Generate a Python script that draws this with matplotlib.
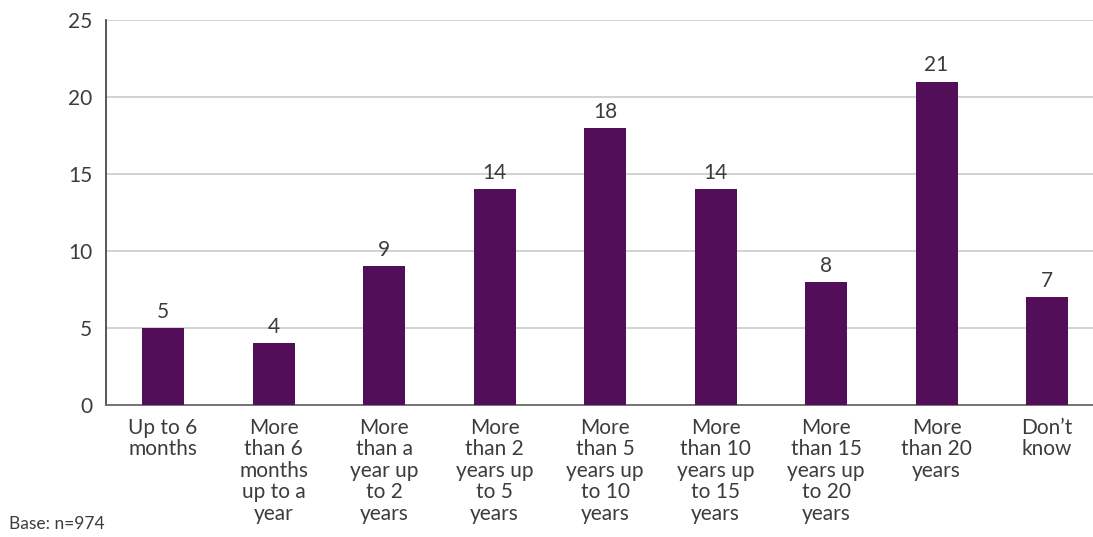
import matplotlib.pyplot as plt

categories = ["Up to 6\nmonths", "More\nthan 6\nmonths\nup to a\nyear", "More\nthan a\nyear up\nto 2\nyears",
              "More\nthan 2\nyears up\nto 5\nyears", "More\nthan 5\nyears up\nto 10\nyears",
              "More\nthan 10\nyears up\nto 15\nyears", "More\nthan 15\nyears up\nto 20\nyears",
              "More\nthan 20\nyears", "Don\u2019t\nknow"]
values = [5, 4, 9, 14, 18, 14, 8, 21, 7]
yticks = [0, 5, 10, 15, 20, 25]

plt.rcParams['font.family'] = ['Lato', 'DejaVu Sans']
txt = '#3c3c3c'

fig = plt.figure(figsize=(10.93, 5.37), dpi=100)
ax = fig.add_axes([106 / 1093, (537 - 405) / 537, (1093 - 106) / 1093, 385 / 537])

x = list(range(len(values)))
ax.bar(x, values, width=0.38, color='#530e5a', zorder=3)
for xi, v in zip(x, values):
    ax.text(xi, v + 0.4, str(v), ha='center', va='bottom', fontsize=15, color=txt)

ax.set_xlim(-0.516, 8.416)
ax.set_ylim(0, 25)
ax.set_yticks(yticks)
ax.set_xticks(x)
ax.set_xticklabels(categories, fontsize=15, color=txt, linespacing=1.1)
ax.tick_params(axis='y', labelsize=15, colors=txt, length=0, pad=10)
ax.tick_params(axis='x', length=0, pad=9)
ax.grid(axis='y', color='#cfcfcf', linewidth=1.3, zorder=0)

for s in ['top', 'right']:
    ax.spines[s].set_visible(False)
ax.spines['left'].set_color('#4a4a4a')
ax.spines['bottom'].set_color('#6a6a6a')
ax.spines['left'].set_linewidth(1.3)
ax.spines['bottom'].set_linewidth(1.3)

fig.text(9 / 1093, 1 - 524 / 537, "Base: n=974", fontsize=12.5, color=txt, va='center')

fig.savefig('out.png', dpi=100)
